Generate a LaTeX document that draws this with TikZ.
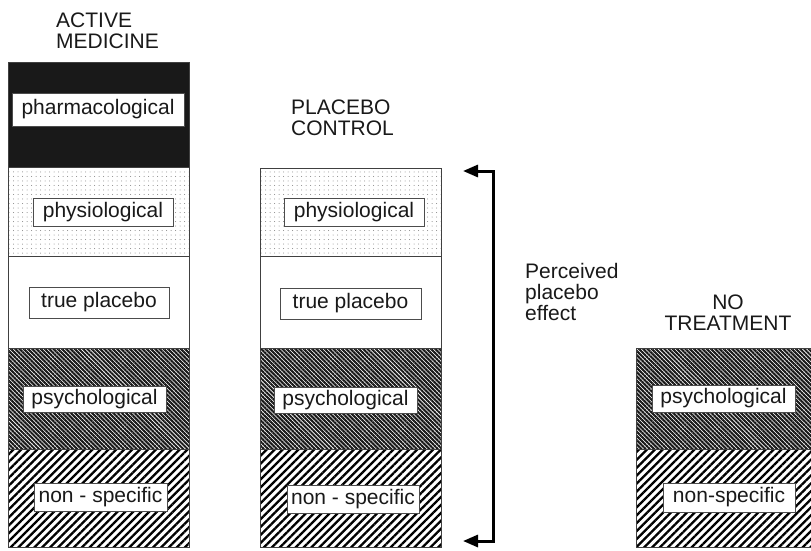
\documentclass[tikz,border=0pt]{standalone}
\usepackage{fontspec}
\setmainfont{Liberation Sans}
\usetikzlibrary{patterns.meta,arrows.meta}
\begin{document}
\begin{tikzpicture}[x=1pt,y=-1pt,
  layer/.style={draw=black!75,line width=0.9pt},
  pharm/.style={layer,fill=black!90},
  physio/.style={layer,pattern={Dots[distance=4.5pt,radius=0.5pt]},pattern color=black!50},
  truep/.style={layer,fill=white},
  psych/.style={layer,pattern={Lines[angle=-45,distance=3pt,line width=2.1pt]},pattern color=black!90},
  nonsp/.style={layer,pattern={Lines[angle=45,distance=5.6pt,line width=2.3pt]},pattern color=black},
  lbl/.style={draw=black!70,line width=0.9pt,fill=white,inner sep=0pt,font=\fontsize{21}{21}\selectfont,text=black!90},
  head/.style={inner sep=0pt,font=\fontsize{21}{21}\selectfont,text=black!90},
  bracket/.style={line width=3pt,line join=miter,{Triangle[length=15pt,width=12pt]}-{Triangle[length=15pt,width=12pt]}}
]
\useasboundingbox (0,0) rectangle (811,550);
% Column 1: active medicine
\draw[pharm]  (8,62)  rectangle (189,167);
\draw[physio] (8,167) rectangle (189,256);
\draw[truep]  (8,256) rectangle (189,348);
\draw[psych]  (8,348) rectangle (189,449);
\draw[nonsp]  (8,449) rectangle (189,547);
\node[lbl,minimum width=172pt,minimum height=33pt] (a1) at (98,109.5) {pharmacological};
\node[lbl,minimum width=140pt,minimum height=28pt] (a2) at (103,212) {physiological};
\node[lbl,minimum width=140pt,minimum height=31pt] (a3) at (99,302.5) {true placebo};
\node[lbl,minimum width=143pt,minimum height=26pt] (a4) at (94.5,399) {psychological};
\node[lbl,minimum width=133pt,minimum height=28pt] (a5) at (100.5,497) {non - specific};
\node[head,anchor=north west,align=left] (ha) at (56,13) {ACTIVE\\MEDICINE};
% Column 2: placebo control
\draw[physio] (260,168) rectangle (441,256);
\draw[truep]  (260,256) rectangle (441,348);
\draw[psych]  (260,348) rectangle (441,449);
\draw[nonsp]  (260,449) rectangle (441,547);
\node[lbl,minimum width=140pt,minimum height=28pt] (b2) at (354,212) {physiological};
\node[lbl,minimum width=141pt,minimum height=31pt] (b3) at (350.5,303.5) {true placebo};
\node[lbl,minimum width=143pt,minimum height=26pt] (b4) at (345.5,400) {psychological};
\node[lbl,minimum width=132pt,minimum height=28pt] (b5) at (353,499) {non - specific};
\node[head,anchor=north west,align=left] (hb) at (291,100) {PLACEBO\\CONTROL};
% Column 3: no treatment
\draw[psych]  (636,348) rectangle (811,449);
\draw[nonsp]  (636,449) rectangle (811,547);
\node[lbl,minimum width=143pt,minimum height=27pt] (c4) at (723.5,398.5) {psychological};
\node[lbl,minimum width=132pt,minimum height=29pt] (c5) at (729,497.5) {non-specific};
\node[head,anchor=north,align=center] (hc) at (728,295) {NO\\TREATMENT};
% Bracket
\coordinate (at) at (463,171);
\coordinate (tr) at (493,171);
\coordinate (br) at (493,541);
\coordinate (bt) at (463,541);
\draw[bracket] (at) -- (tr) -- (br) -- (bt);
\node[head,anchor=north west,align=left] (pe) at (525,263) {Perceived\\placebo\\effect};
\end{tikzpicture}
\end{document}
